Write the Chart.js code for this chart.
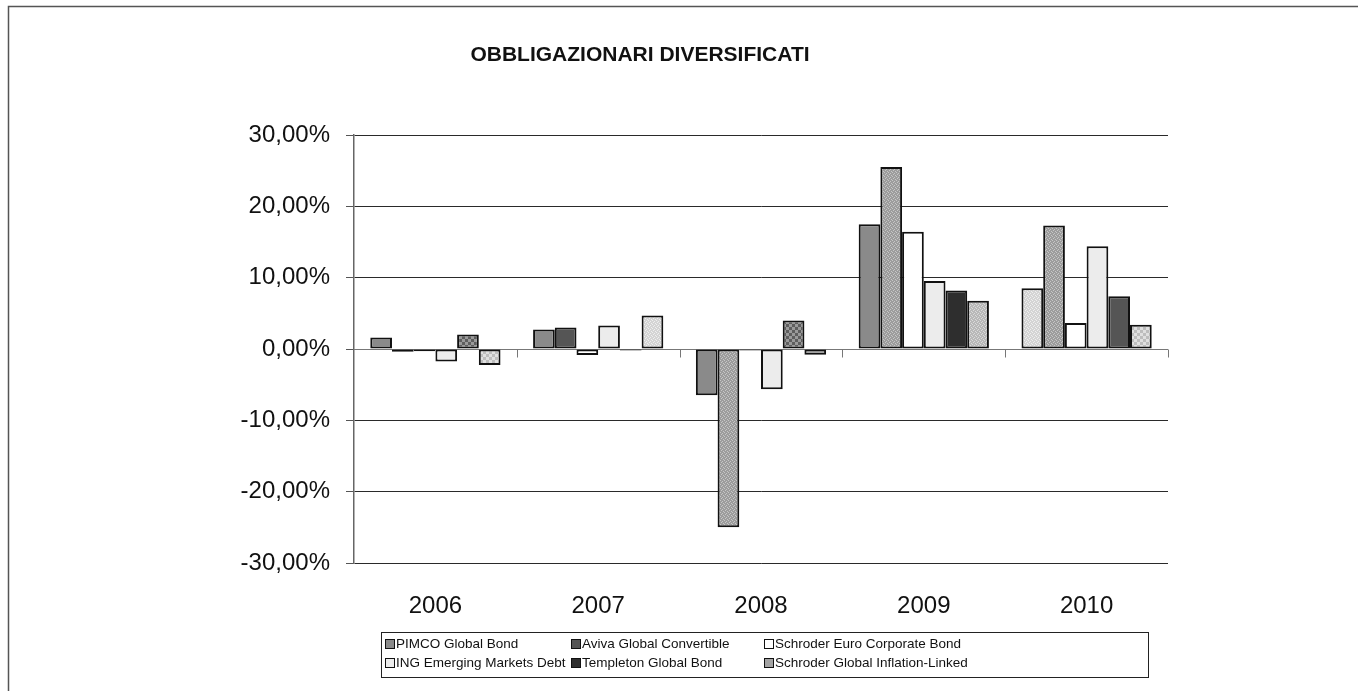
<!DOCTYPE html>
<html>
<head>
<meta charset="utf-8">
<script src="https://cdn.jsdelivr.net/npm/chart.js@4/dist/chart.umd.min.js"></script>
<style>
  html, body { margin: 0; padding: 0; background: #fff; }
  #wrap { width: 1358px; height: 691px; position: relative; }
</style>
</head>
<body>
<div id="wrap"><canvas id="chart" width="1358" height="691"></canvas></div>
<script>
// data
const years = ['2006', '2007', '2008', '2009', '2010']
const seriesNames = [
  'PIMCO Global Bond',
  'Aviva Global Convertible',
  'Schroder Euro Corporate Bond',
  'ING Emerging Markets Debt',
  'Templeton Global Bond',
  'Schroder Global Inflation-Linked'
]
const pimco = [1.6, 2.75, -6.5, 17.5, 8.5]
const aviva = [-0.4, 3.0, -25.0, 25.5, 17.3]
const schroderEuro = [-0.3, -0.85, -0.2, 16.45, 3.65]
const ingEmerging = [-1.75, 3.3, -5.65, 9.55, 14.4]
const templeton = [2.05, -0.2, 4.0, 8.2, 7.4]
const schroderInfl = [-2.25, 4.7, -0.8, 6.75, 3.4]
const yTicks = [-30, -20, -10, 0, 10, 20, 30]

const FONT = 'Arial, "Liberation Sans", sans-serif'

/**
 * small repeating fill, like the excel pattern fills
 *    `checker` is a coarse 3px check, `fine` a 1px stipple
 **/
function makePattern(base, dot, kind) {
  let c = document.createElement('canvas')
  let n = kind === 'checker' ? 6 : 4
  c.width = c.height = n
  let g = c.getContext('2d')
  g.fillStyle = base
  g.fillRect(0, 0, n, n)
  g.fillStyle = dot
  if (kind === 'checker') {
    g.fillRect(0, 0, 3, 3)
    g.fillRect(3, 3, 3, 3)
  } else {
    g.fillRect(0, 0, 1, 1)
    g.fillRect(2, 1, 1, 1)
    g.fillRect(1, 2, 1, 1)
    g.fillRect(3, 3, 1, 1)
  }
  return g.createPattern(c, 'repeat')
}

const gray = '#8a8a8a'
const dark = '#555555'
const white = '#ffffff'
const light = '#ececec'
const veryDark = '#2e2e2e'
const mid = '#a3a3a3'
const fineDark = makePattern('#9c9c9c', '#c6c6c6', 'fine')
const fineLight = makePattern('#d4d4d4', '#efefef', 'fine')
const fineMid = makePattern('#b8b8b8', '#dadada', 'fine')
const checkDark = makePattern('#9a9a9a', '#5e5e5e', 'checker')
const checkLight = makePattern('#e0e0e0', '#bdbdbd', 'checker')

// the original has per-point fills, legend shows the series default
const legendColors = [gray, dark, white, light, veryDark, mid]
const pointFills = [
  [gray, gray, gray, gray, fineLight],
  [dark, dark, fineDark, fineDark, fineDark],
  [white, white, dark, white, white],
  [light, light, light, light, light],
  [checkDark, dark, checkDark, veryDark, dark],
  [checkLight, fineLight, '#999999', fineMid, checkLight]
]
const seriesValues = [pimco, aviva, schroderEuro, ingEmerging, templeton, schroderInfl]

function fmtPct(v) {
  return v.toFixed(2).replace('.', ',') + '%'
}

// frame, title, zero axis with category ticks, boxed legend
const decorations = {
  id: 'decorations',
  beforeDraw(chart) {
    let ctx = chart.ctx
    ctx.save()
    ctx.fillStyle = '#fff'
    ctx.fillRect(0, 0, chart.width, chart.height)
    ctx.strokeStyle = '#555'
    ctx.lineWidth = 1.5
    ctx.strokeRect(8.5, 6.5, 1400, 800)
    ctx.fillStyle = '#111'
    ctx.font = 'bold 21px ' + FONT
    ctx.textAlign = 'center'
    ctx.textBaseline = 'middle'
    ctx.fillText('OBBLIGAZIONARI DIVERSIFICATI', 640, 55)
    ctx.restore()
  },
  beforeDatasetsDraw(chart) {
    let ctx = chart.ctx
    let y0 = Math.round(chart.scales.y.getPixelForValue(0)) + 0.5
    let area = chart.chartArea
    ctx.save()
    ctx.strokeStyle = '#777'
    ctx.lineWidth = 1
    ctx.beginPath()
    ctx.moveTo(area.left, y0)
    ctx.lineTo(area.right, y0)
    let step = (area.right - area.left) / years.length
    for (let i = 1; i <= years.length; i++) {
      let px = Math.round(area.left + i * step) + 0.5
      ctx.moveTo(px, y0)
      ctx.lineTo(px, y0 + 8)
    }
    ctx.stroke()
    ctx.restore()
  },
  afterDraw(chart) {
    let ctx = chart.ctx
    ctx.save()
    ctx.strokeStyle = '#222'
    ctx.lineWidth = 1
    ctx.strokeRect(381.5, 632.5, 767, 45)
    ctx.font = '13.5px ' + FONT
    ctx.textBaseline = 'middle'
    ctx.textAlign = 'left'
    let cols = [385, 571, 764]
    let rows = [644, 663]
    seriesNames.forEach((name, i) => {
      let cx = cols[i % 3]
      let cy = rows[Math.floor(i / 3)]
      ctx.fillStyle = legendColors[i]
      ctx.fillRect(cx, cy - 5, 10, 10)
      ctx.strokeStyle = '#111'
      ctx.strokeRect(cx + 0.5, cy - 5 + 0.5, 9, 9)
      ctx.fillStyle = '#111'
      ctx.fillText(name, cx + 11, cy + 0.5)
    })
    ctx.restore()
  }
}

function buildDatasets() {
  return seriesNames.map((name, i) => ({
    label: name,
    data: seriesValues[i],
    backgroundColor: pointFills[i],
    borderColor: '#111',
    borderWidth: 2,
    borderSkipped: false,
    categoryPercentage: 0.8,
    barPercentage: 1.0
  }))
}

new Chart(document.getElementById('chart'), {
  type: 'bar',
  data: { labels: years, datasets: buildDatasets() },
  options: {
    responsive: false,
    animation: false,
    layout: { padding: { left: 204, right: 190, top: 135, bottom: 68 } },
    plugins: {
      legend: { display: false },
      title: { display: false },
      tooltip: { enabled: false }
    },
    scales: {
      x: {
        grid: { display: false },
        border: { display: false },
        ticks: {
          color: '#111',
          font: { family: FONT, size: 24 },
          padding: 21
        },
        afterFit(s) { s.height = 60 }
      },
      y: {
        min: -30,
        max: 30,
        afterBuildTicks(s) { s.ticks = yTicks.map(v => ({ value: v })) },
        grid: {
          color: ctx => ctx.tick && ctx.tick.value === 0 ? 'rgba(0,0,0,0)' : '#2a2a2a',
          tickColor: '#555',
          tickLength: 8,
          lineWidth: 1
        },
        border: { display: true, color: '#666', width: 1.5 },
        ticks: {
          color: '#111',
          font: { family: FONT, size: 24 },
          padding: 16,
          callback: v => fmtPct(v)
        },
        afterFit(s) { s.width = 150 }
      }
    }
  },
  plugins: [decorations]
})
</script>
</body>
</html>
